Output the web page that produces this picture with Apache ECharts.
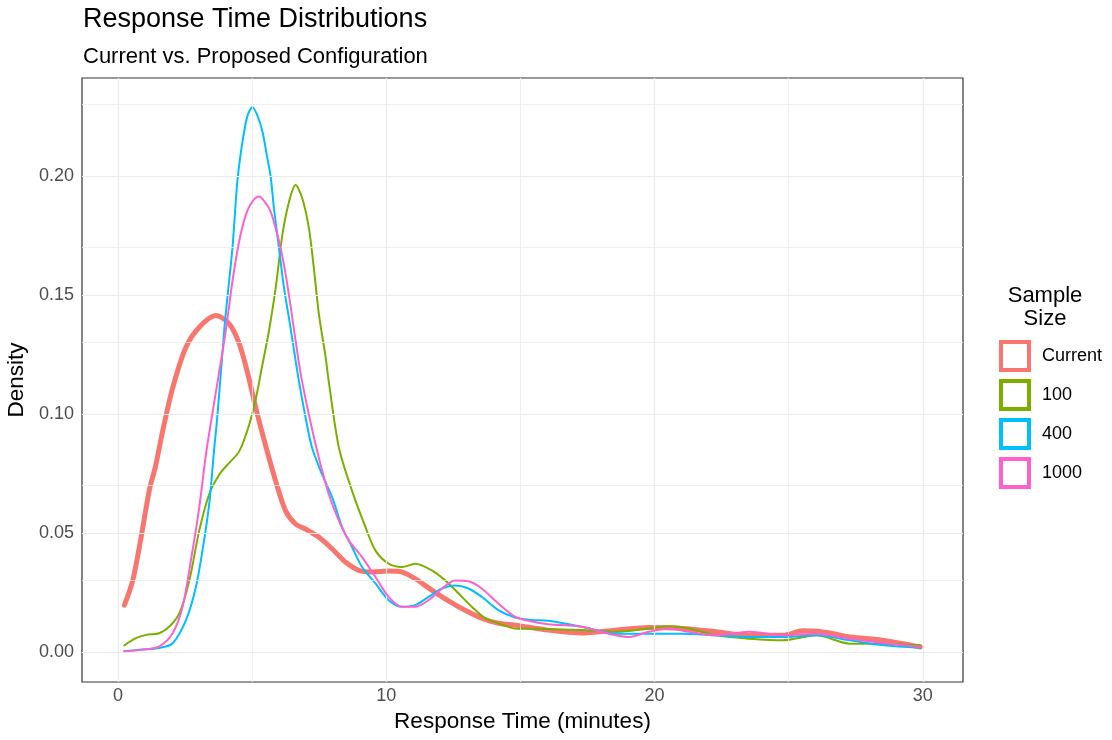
<!DOCTYPE html>
<html>
<head>
<meta charset="utf-8">
<script src="https://cdn.jsdelivr.net/npm/echarts@6/dist/echarts.min.js"></script>
<style>html,body{margin:0;padding:0;background:#fff;}#c{width:1112px;height:740px;}</style>
</head>
<body>
<div id="c"></div>
<script>
const seriesNames = ['Current', '100', '400', '1000'];
const seriesColors = ['#F8766D', '#7CAE00', '#00BFFF', '#FF61CC'];

const currentData = [
  [0.24,0.0197],[0.55,0.030],[0.86,0.048],[1.17,0.068],[1.4,0.078],[1.67,0.093],[2.04,0.111],
  [2.53,0.128],[3.03,0.1365],[3.65,0.1414],[4.14,0.138],[4.52,0.1296],[4.85,0.1165],[5.14,0.1025],
  [5.51,0.0865],[5.88,0.0718],[6.25,0.0593],[6.62,0.0538],[6.99,0.0517],[7.49,0.0482],[7.99,0.0433],
  [8.48,0.0378],[8.98,0.0343],[9.47,0.0336],[10.09,0.034],[10.59,0.0336],[11.08,0.0308],[11.7,0.026],
  [12.32,0.0215],[12.93,0.0176],[13.55,0.0142],[14.17,0.0121],[14.8,0.0113],[16.04,0.0092],[17.29,0.008],
  [18.54,0.0092],[19.79,0.0103],[21.04,0.0099],[22.29,0.0085],[23.54,0.007],[24.79,0.007],[25.54,0.0089],
  [26.04,0.0087],[26.66,0.0077],[27.29,0.0063],[28.54,0.0049],[29.91,0.0021]
];
const n100Data = [
  [0.24,0.0028],[0.67,0.0058],[1.05,0.0072],[1.54,0.0079],[1.92,0.0107],[2.29,0.0163],[2.66,0.030],
  [3.03,0.051],[3.4,0.0663],[3.78,0.0746],[4.14,0.0794],[4.52,0.0843],[4.89,0.0954],[5.14,0.1065],
  [5.39,0.121],[5.63,0.135],[5.88,0.153],[6.13,0.1754],[6.38,0.1893],[6.62,0.1962],[6.87,0.1907],
  [7.12,0.178],[7.3,0.1615],[7.49,0.142],[7.74,0.124],[7.86,0.1135],[8.24,0.0857],[8.73,0.0676],
  [9.23,0.0524],[9.6,0.0426],[10.09,0.0371],[10.59,0.0357],[11.08,0.0371],[11.7,0.0343],[12.2,0.0301],
  [12.7,0.0246],[13.19,0.019],[13.69,0.0142],[14.18,0.0121],[14.79,0.0099],[16.04,0.0097],[17.29,0.0092],
  [18.54,0.0085],[19.79,0.0099],[20.54,0.0108],[21.29,0.0099],[22.29,0.007],[23.54,0.0056],[24.79,0.0049],
  [26.04,0.007],[27.29,0.0035],[28.54,0.0035],[29.91,0.0028]
];
const n400Data = [
  [0.24,0.0003],[0.8,0.001],[1.54,0.0017],[2.04,0.0037],[2.54,0.0135],[2.9,0.027],[3.15,0.0426],
  [3.4,0.062],[3.59,0.0857],[3.71,0.0996],[3.96,0.135],[4.08,0.149],[4.27,0.170],
  [4.45,0.1976],[4.64,0.2143],[4.83,0.2254],[5.01,0.2289],[5.2,0.2254],[5.39,0.2185],[5.57,0.2074],
  [5.69,0.200],[5.82,0.186],[6.0,0.170],[6.19,0.153],[6.38,0.140],[6.56,0.127],[6.75,0.1135],
  [7.0,0.0982],[7.24,0.0857],[7.61,0.0746],[7.99,0.0649],[8.36,0.0524],[8.73,0.044],[9.1,0.0357],
  [9.6,0.0288],[10.09,0.0218],[10.59,0.019],[11.08,0.0197],[11.58,0.0232],[12.08,0.0267],[12.57,0.028],
  [13.07,0.0267],[13.56,0.0232],[14.18,0.0176],[14.8,0.0145],[15.42,0.0135],[16.04,0.0131],[17.29,0.0106],
  [18.54,0.0077],[19.79,0.0077],[21.04,0.0077],[22.29,0.007],[23.54,0.0063],[24.79,0.0063],[26.04,0.007],
  [27.29,0.0049],[28.54,0.0028],[29.91,0.0018]
];
const n1000Data = [
  [0.24,0.0003],[0.92,0.001],[1.54,0.0024],[2.04,0.0079],[2.41,0.019],[2.72,0.0385],[3.03,0.0607],
  [3.28,0.083],[3.59,0.105],[4.02,0.135],[4.27,0.156],[4.52,0.1726],
  [4.77,0.1838],[5.01,0.1893],[5.26,0.1914],[5.51,0.1886],[5.69,0.1851],[5.88,0.178],[6.06,0.170],
  [6.25,0.1588],[6.44,0.145],[6.62,0.131],[6.81,0.117],[7.12,0.0996],[7.49,0.0815],[7.86,0.0663],
  [8.24,0.0551],[8.61,0.0468],[9.1,0.0399],[9.6,0.0315],[10.09,0.0232],[10.59,0.019],[11.08,0.019],
  [11.58,0.0218],[12.08,0.0267],[12.57,0.0301],[13.07,0.0297],[13.56,0.0267],[14.18,0.0204],[14.8,0.0149],
  [15.42,0.0128],[16.04,0.0117],[17.29,0.0106],[18.29,0.0077],[19.04,0.0063],[19.79,0.0085],[20.54,0.0099],
  [21.29,0.0085],[22.29,0.007],[23.54,0.0085],[24.79,0.007],[26.04,0.0077],[27.29,0.0056],[28.54,0.0038],
  [29.91,0.0021]
];
const allData = [currentData, n100Data, n400Data, n1000Data];
const lineWidths = [5, 2, 2, 2];

const xTicks = [0, 10, 20, 30];
const xMinor = [5, 15, 25];
const yTicks = [0, 0.05, 0.10, 0.15, 0.20];
const yMinor = [0.025, 0.075, 0.125, 0.175, 0.225];

const chart = echarts.init(document.getElementById('c'), null, {renderer: 'canvas'});
const font = 'Liberation Sans, Arial, sans-serif';

function gridLines(vals, key, w) {
  return vals.map(v => ({[key]: v, lineStyle: {color: '#ebebeb', width: w, type: 'solid'}}));
}

const series = [{
  type: 'line', data: [], silent: true, z: 1,
  markLine: {
    silent: true, symbol: ['none', 'none'], label: {show: false}, animation: false,
    data: [].concat(
      gridLines(xMinor, 'xAxis', 0.8), gridLines(yMinor, 'yAxis', 0.8),
      gridLines(xTicks, 'xAxis', 1.2), gridLines(yTicks, 'yAxis', 1.2))
  }
}];
seriesNames.forEach((n, i) => {
  series.push({
    name: n, type: 'line', data: allData[i], smooth: 0.3, showSymbol: false, symbol: 'none',
    z: 2 + i, lineStyle: {color: seriesColors[i], width: lineWidths[i], join: 'round', cap: 'round'}, itemStyle: {color: seriesColors[i]}
  });
});

chart.setOption({
  animation: false,
  backgroundColor: '#fff',
  title: {
    text: 'Response Time Distributions', subtext: 'Current vs. Proposed Configuration',
    left: 83, top: 6, itemGap: 12, padding: 0,
    textStyle: {fontFamily: font, fontSize: 27, lineHeight: 28, fontWeight: 'normal', color: '#000'},
    subtextStyle: {fontFamily: font, fontSize: 22, lineHeight: 22, color: '#000'}
  },
  grid: {left: 82, right: 149, top: 78, bottom: 58, show: true, borderColor: '#333', borderWidth: 1.2,
    backgroundColor: 'transparent', containLabel: false, outerBoundsMode: 'none'},
  xAxis: {
    type: 'value', min: -1.34, max: 31.5,
    name: 'Response Time (minutes)', nameLocation: 'middle', nameGap: 28,
    nameTextStyle: {fontFamily: font, fontSize: 22.5, color: '#000'},
    axisLine: {show: false},
    axisTick: {show: true, length: 4, lineStyle: {color: '#333'}, customValues: xTicks},
    axisLabel: {fontFamily: font, fontSize: 18, color: '#4d4d4d', margin: 5, customValues: xTicks},
    splitLine: {show: false}
  },
  yAxis: {
    type: 'value', min: -0.0126, max: 0.2412,
    name: 'Density', nameLocation: 'middle', nameGap: 51, nameRotate: 90,
    nameTextStyle: {fontFamily: font, fontSize: 22.5, color: '#000'},
    axisLine: {show: false},
    axisTick: {show: true, length: 4, lineStyle: {color: '#333'}, customValues: yTicks},
    axisLabel: {fontFamily: font, fontSize: 18, color: '#4d4d4d', margin: 8, customValues: yTicks,
      formatter: v => v.toFixed(2)},
    splitLine: {show: false}
  },
  legend: {
    orient: 'vertical', left: 999, top: 340, itemWidth: 28, itemHeight: 28, itemGap: 7, padding: 0,
    icon: 'rect',
    textStyle: {fontFamily: font, fontSize: 18, color: '#000', padding: [0, 0, 0, 8]},
    data: seriesNames.map((n, i) => ({name: n, itemStyle: {color: '#fff', borderColor: seriesColors[i], borderWidth: 4}}))
  },
  graphic: [{
    type: 'text', x: 1045, y: 284,
    style: {text: 'Sample\nSize', fontFamily: font, fontSize: 22, fill: '#000', textAlign: 'center', textVerticalAlign: 'top', lineHeight: 23}
  }],
  series: series
});
</script>
</body>
</html>
